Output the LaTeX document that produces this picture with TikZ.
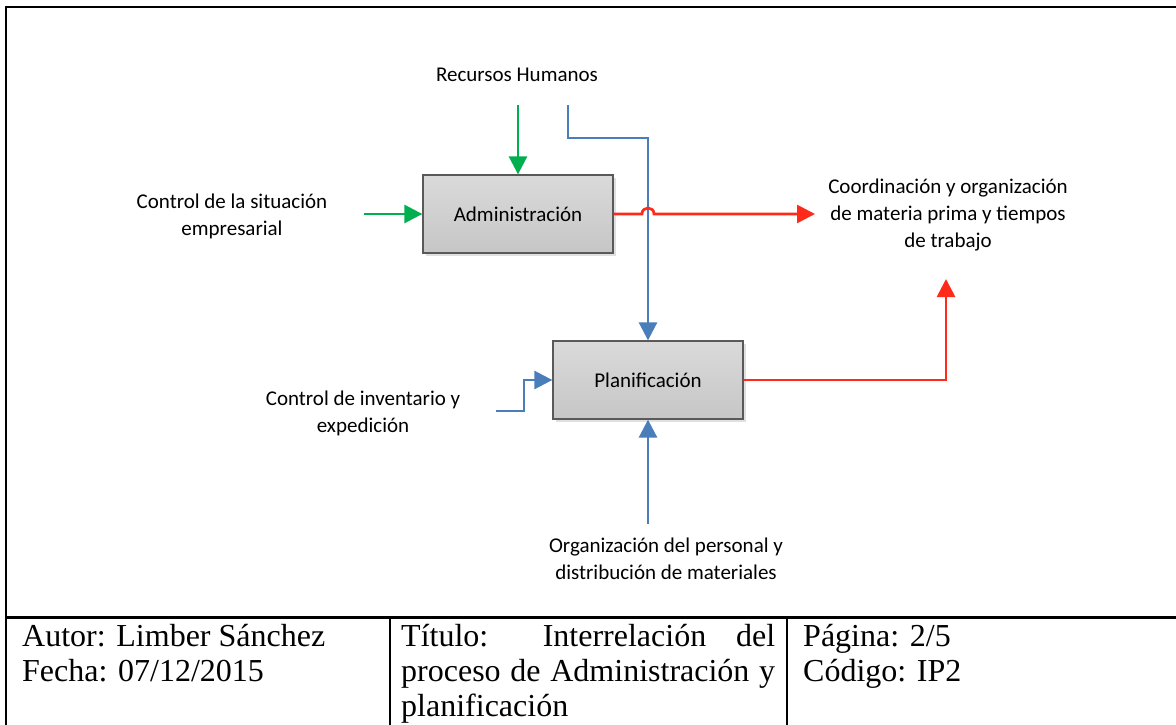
\documentclass[tikz,border=0pt]{standalone}
\usepackage{fontspec}
\setmainfont{Carlito}
\newfontfamily\tabfont{Liberation Serif}
\usetikzlibrary{arrows.meta,shadows}

\definecolor{flowgreen}{HTML}{00B050}
\definecolor{flowblue}{HTML}{4A7EBB}
\definecolor{flowred}{HTML}{FF2A1A}
\definecolor{boxedge}{HTML}{595959}
\definecolor{boxtop}{HTML}{DADADA}
\definecolor{boxbottom}{HTML}{C6C6C6}

\begin{document}
\begin{tikzpicture}[x=1pt,y=-1pt,
  process/.style={draw=boxedge, line width=1.3pt, top color=boxtop, bottom color=boxbottom,
    minimum width=190pt, minimum height=78pt, inner sep=0pt,
    font=\fontsize{21}{26}\selectfont,
    drop shadow={shadow xshift=3pt, shadow yshift=-3pt, fill=black!12, opacity=1}},
  flowtext/.style={font=\fontsize{21}{27}\selectfont, align=center, inner sep=0pt},
  flow/.style={line width=2.7pt, -{Triangle[length=18pt,width=18pt]}},
  cell/.style={font=\tabfont\fontsize{32}{36}\selectfont, anchor=base west, inner sep=0pt}]

% page frame
\useasboundingbox[fill=white] (0,0) rectangle (1176,725);
\draw[line width=2.4pt] (6,725) -- (6,7) -- (1176,7);

% process boxes
\node[process] (adm) at (518,214) {Administración};
\node[process] (plan) at (648,380) {Planificación};

% texts of inputs and outputs
\node[flowtext] (rh) at (517,75) {Recursos Humanos};
\node[flowtext] (cse) at (232,216) {Control de la situación\\empresarial};
\node[flowtext] (coord) at (948,215) {Coordinación y organización\\de materia prima y tiempos\\de trabajo};
\node[flowtext] (cie) at (363,413) {Control de inventario y\\expedición};
\node[flowtext] (ope) at (666,559) {Organización del personal y\\distribución de materiales};

% free ends and bends of the connectors
\coordinate (gtop) at (518,105);
\coordinate (gleft) at (364,214);
\coordinate (btop) at (568,105);
\coordinate (bbend) at (648,138);
\coordinate (hopa) at (642,214);
\coordinate (hopb) at (654,214);
\coordinate (rout1) at (815,214);
\coordinate (rout2) at (946,279);
\coordinate (bleft) at (496,411);
\coordinate (bstep) at (524,411);
\coordinate (bbottom) at (648,524);

% connectors
\draw[flow, flowgreen] (gtop) -- (adm.north);
\draw[flow, flowgreen] (gleft) -- (adm.west);
\draw[flow, flowblue] (btop) |- (bbend) -- (plan.north);
\draw[flow, flowred] (adm.east) -- (hopa) .. controls (642,206) and (654,206) .. (hopb) -- (rout1);
\draw[flow, flowred] (plan.east) -| (rout2);
\draw[flow, flowblue] (bleft) -- (bstep) |- (plan.west);
\draw[flow, flowblue] (bbottom) -- (plan.south);

% title block
\draw[line width=3pt] (6,617) -- (1176,617);
\draw[line width=2pt] (390,617) -- (390,725);
\draw[line width=2pt] (787,617) -- (787,725);

\node[cell] (autor) at (22,646) {Autor: Limber Sánchez};
\node[cell] (fecha) at (22,681) {Fecha: 07/12/2015};
\node[cell] (tit1) at (401,646) {\makebox[374pt][s]{Título: Interrelación del}};
\node[cell] (tit2) at (401,681) {\makebox[374pt][s]{proceso de Administración y}};
\node[cell] (tit3) at (401,716) {planificación};
\node[cell] (pag) at (803,646) {Página: 2/5};
\node[cell] (cod) at (803,681) {Código: IP2};
\end{tikzpicture}
\end{document}
